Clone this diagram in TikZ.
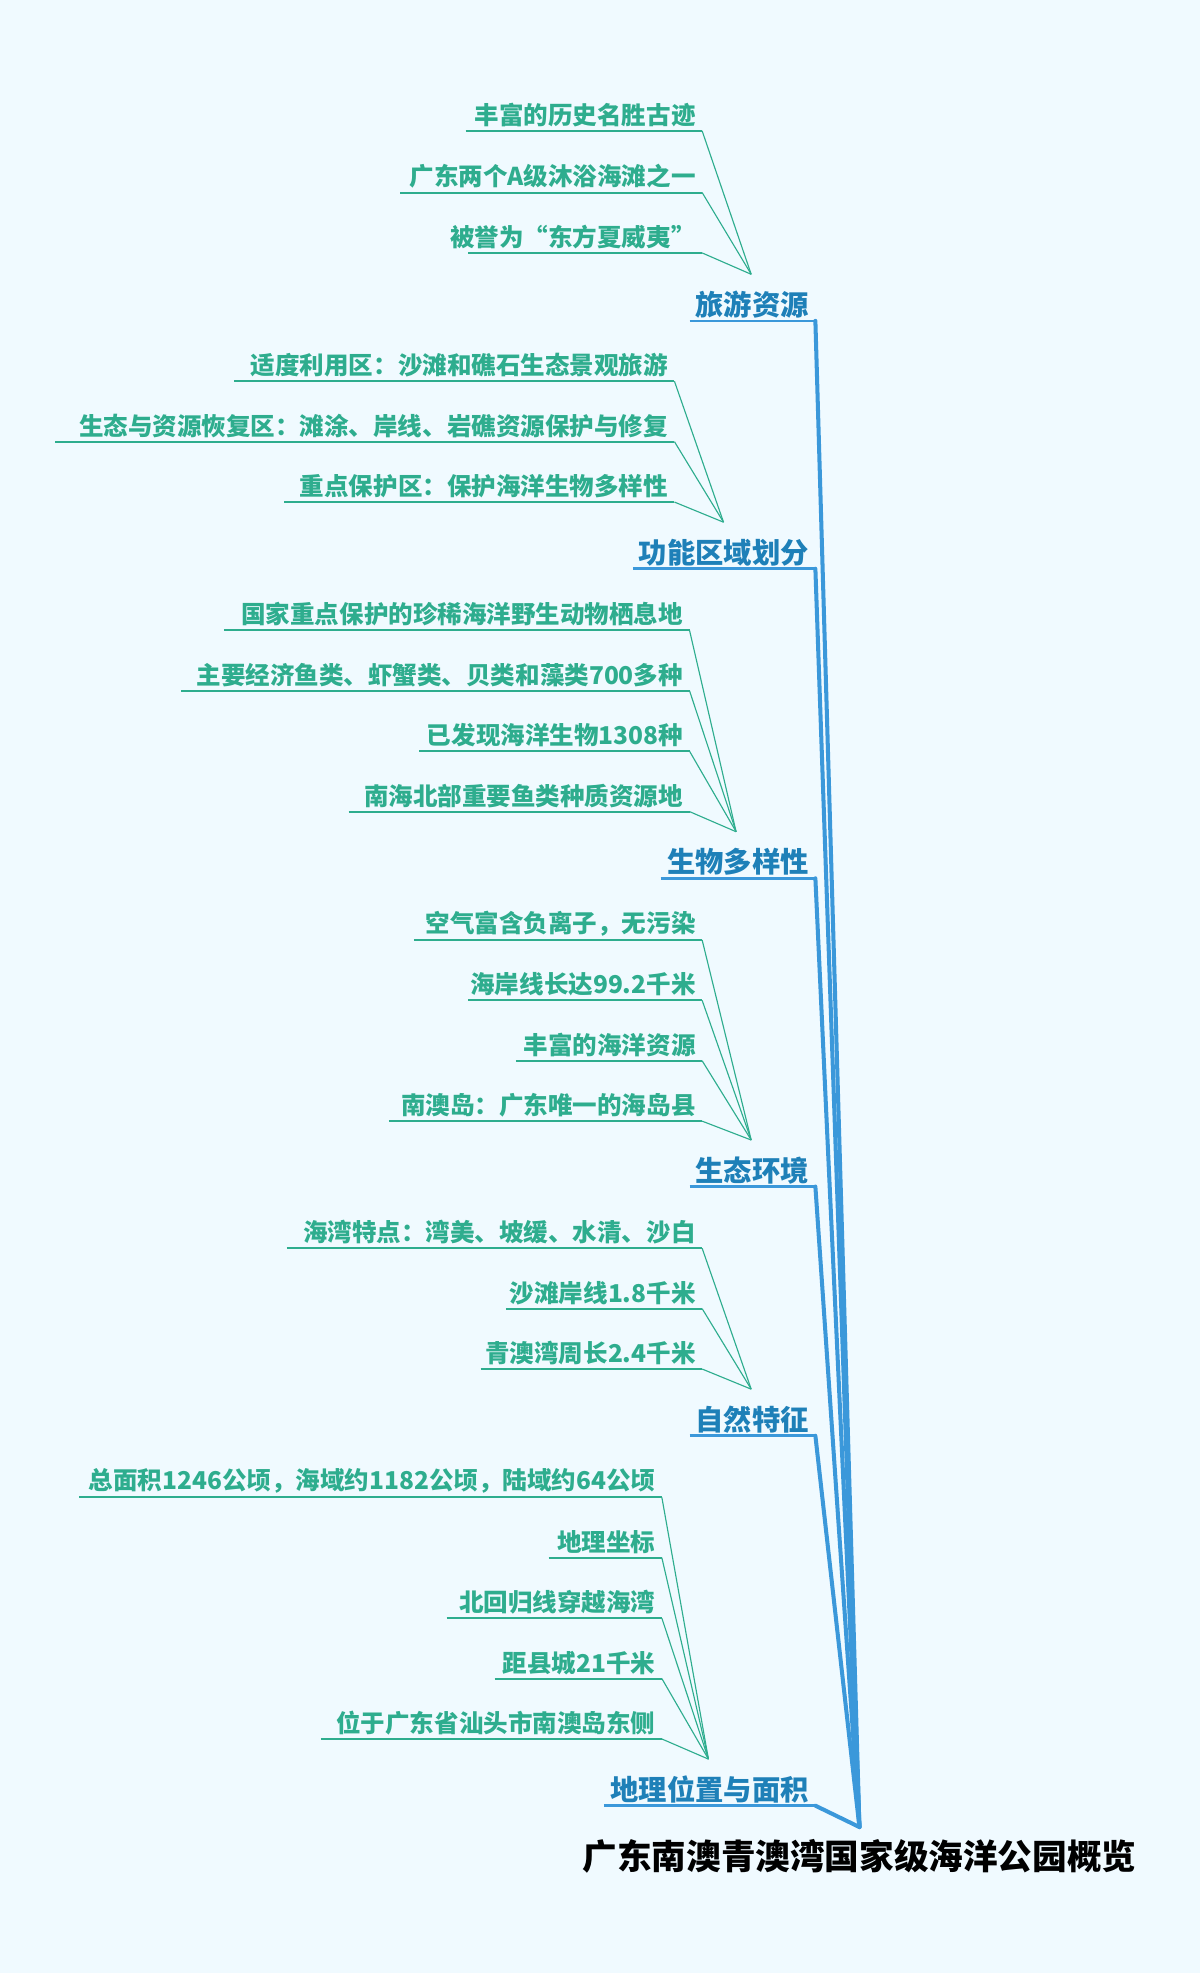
\documentclass[tikz,border=0pt]{standalone}
\usepackage{fontspec}
\setmainfont{Noto Sans CJK SC}
\definecolor{bg}{HTML}{F0FAFF}
\definecolor{leafc}{HTML}{2EAD8E}
\definecolor{brc}{HTML}{1E80B8}
\definecolor{linec}{HTML}{3B98DA}
\begin{document}
\begin{tikzpicture}[x=1pt,y=-1pt,
 leaf/.style={anchor=south east,inner sep=1pt,text=leafc,font=\fontsize{19.5}{20}\selectfont\bfseries},
 br/.style={anchor=south east,inner sep=1pt,text=brc,font=\fontsize{22.5}{23}\selectfont\bfseries},
 leafline/.style={draw=leafc,line width=1.6pt},
 conn/.style={draw=leafc,line width=0.9pt},
 trunk/.style={draw=linec,line width=3.2pt,line cap=round}]
\fill[bg] (0,0) rectangle (954,1568);
\useasboundingbox (0,0) rectangle (954,1568);
\coordinate (root) at (683,1452);
\node[anchor=center,font=\fontsize{27.5}{28}\selectfont\bfseries,text=black] (roottext) at (683,1475) {广东南澳青澳湾国家级海洋公园概览};
\foreach \n/\t/\u/\xl/\cx/\cy in {b1/旅游资源/255/548/597/218, b2/功能区域划分/452/503/575/415, b3/生物多样性/698/525/585/661, b4/生态环境/943/548/597/906, b5/自然特征/1141/548/597/1104, b6/地理位置与面积/1435/480/563/1398}{
 \coordinate (\n L) at (\xl,\u);
 \coordinate (\n R) at (648,\u);
 \coordinate (\n C) at (\cx,\cy);
 \node[br] (\n T) at (644,\u-1) {\t};
 \draw[linec,line width=2pt] (\n L) -- (\n R);
 \draw[trunk] (\n R) -- (root);
}
\foreach \n/\b/\t/\u/\xl/\xr in {
 l11/b1/丰富的历史名胜古迹/104/370/558,
 l12/b1/广东两个A级沐浴海滩之一/153/318/558,
 l13/b1/被誉为“东方夏威夷”/201/372/558,
 l21/b2/适度利用区：沙滩和礁石生态景观旅游/303/186/536,
 l22/b2/生态与资源恢复区：滩涂、岸线、岩礁资源保护与修复/351/44/536,
 l23/b2/重点保护区：保护海洋生物多样性/399/226/536,
 l31/b3/国家重点保护的珍稀海洋野生动物栖息地/501/178/548,
 l32/b3/主要经济鱼类、虾蟹类、贝类和藻类700多种/549/144/548,
 l33/b3/已发现海洋生物1308种/597/333/548,
 l34/b3/南海北部重要鱼类种质资源地/645/277/548,
 l41/b4/空气富含负离子，无污染/747/329/558,
 l42/b4/海岸线长达99.2千米/795/372/558,
 l43/b4/丰富的海洋资源/843/410/558,
 l44/b4/南澳岛：广东唯一的海岛县/891/309/558,
 l51/b5/海湾特点：湾美、坡缓、水清、沙白/992/228/558,
 l52/b5/沙滩岸线1.8千米/1040/402/558,
 l53/b5/青澳湾周长2.4千米/1088/382/558,
 l61/b6/总面积1246公顷，海域约1182公顷，陆域约64公顷/1190/63/526,
 l62/b6/地理坐标/1238/436/526,
 l63/b6/北回归线穿越海湾/1286/355/526,
 l64/b6/距县城21千米/1334/393/526,
 l65/b6/位于广东省汕头市南澳岛东侧/1382/255/526}{
 \coordinate (\n L) at (\xl,\u);
 \coordinate (\n R) at (\xr,\u);
 \node[leaf] (\n T) at (\xr-4,\u-2) {\t};
 \draw[leafline] (\n L) -- (\n R);
 \draw[conn] (\n R) -- (\b C);
}
\end{tikzpicture}
\end{document}
